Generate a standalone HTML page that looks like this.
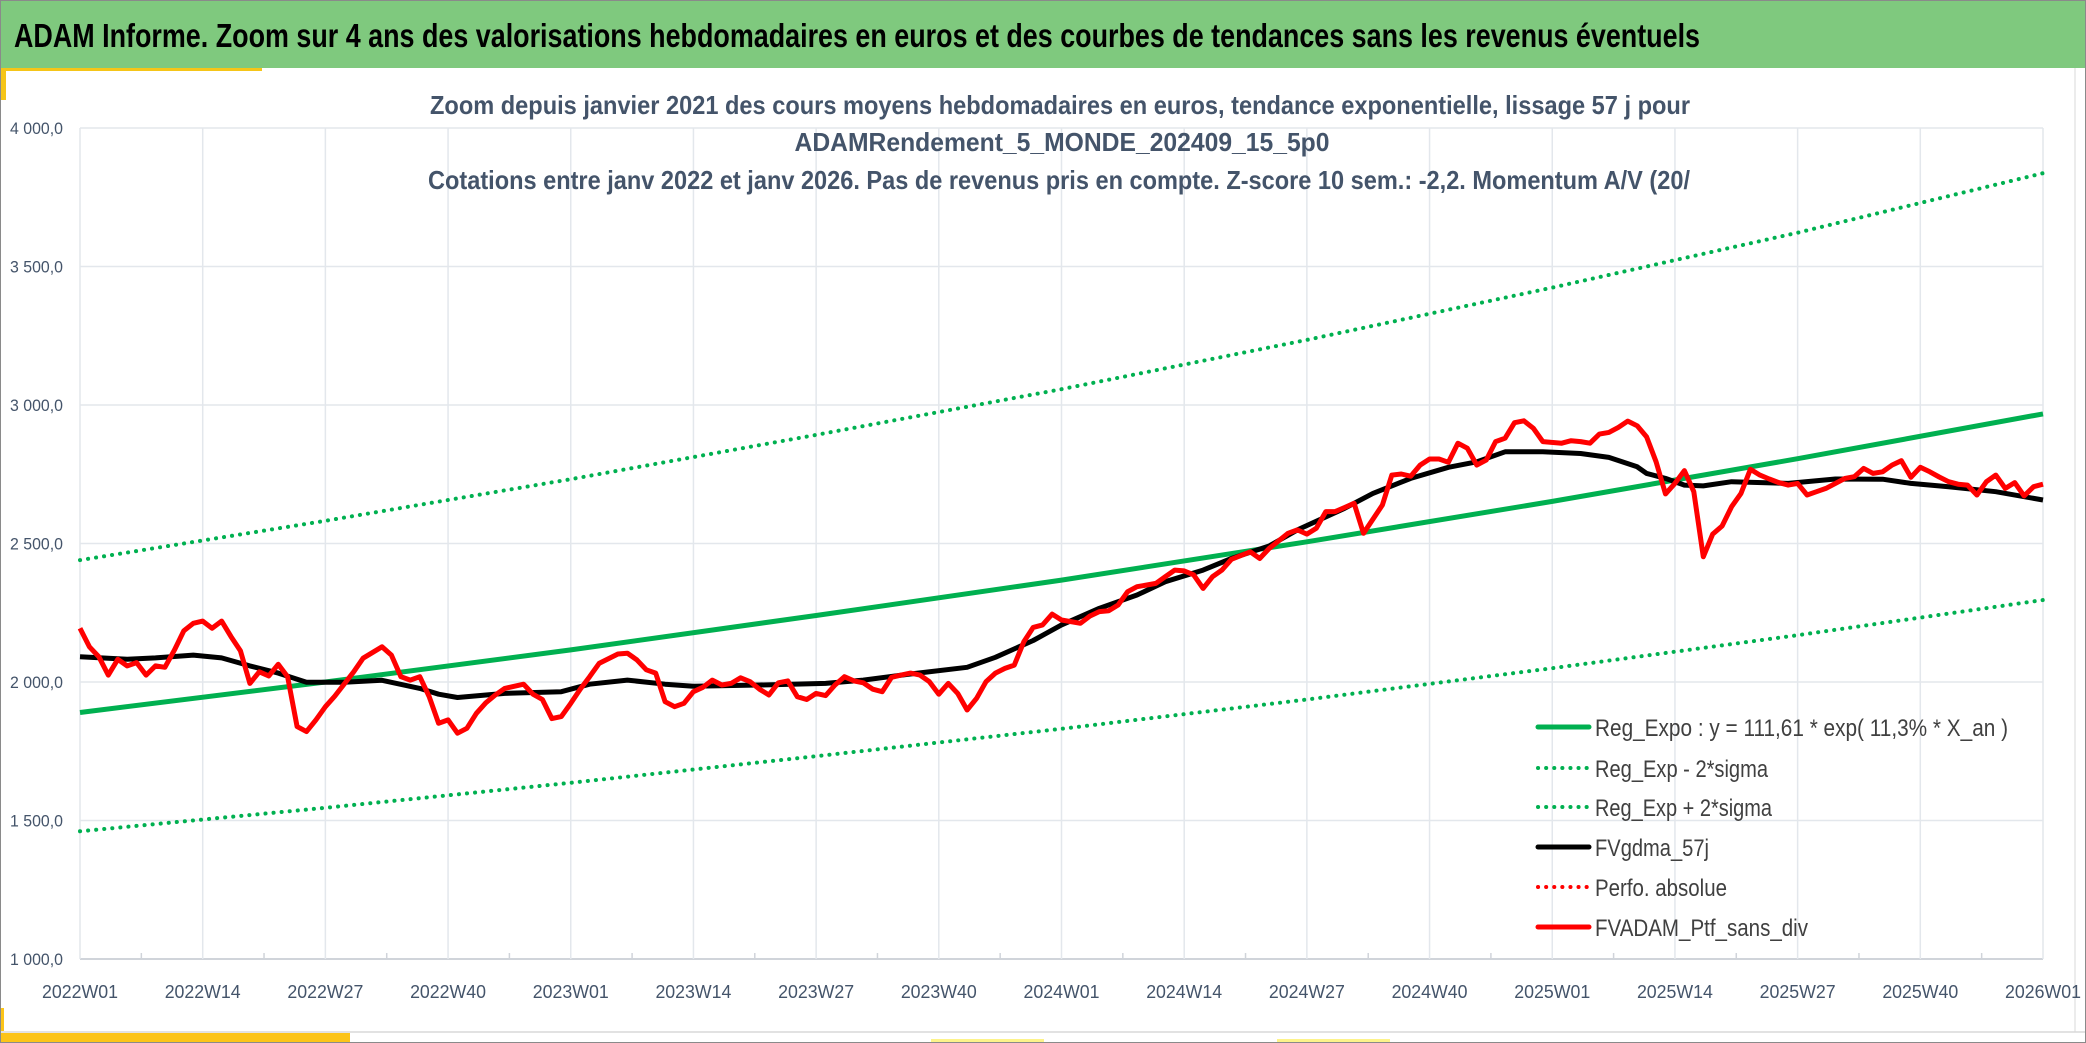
<!DOCTYPE html>
<html><head><meta charset="utf-8"><style>
html,body{margin:0;padding:0;background:#fff;}
body{width:2086px;height:1043px;overflow:hidden;position:relative;font-family:"Liberation Sans",sans-serif;}
svg{display:block;}
</style></head><body>
<svg id="chart" width="2086" height="1043" viewBox="0 0 2086 1043" xmlns="http://www.w3.org/2000/svg">
<rect x="0" y="0" width="2086" height="1043" fill="#fff"/>
<g id="grid"></g>
<rect x="0" y="0" width="2086" height="68" fill="#7fc97e"/>
<text x="14" y="47" font-family="Liberation Sans, sans-serif" font-weight="bold" font-size="33" fill="#000" textLength="1686" lengthAdjust="spacingAndGlyphs">ADAM Informe. Zoom sur 4 ans des valorisations hebdomadaires en euros et des courbes de tendances sans les revenus éventuels</text>
<rect x="0" y="68" width="262" height="3" fill="#f5c518"/>
<rect x="0" y="68" width="6" height="32" fill="#f5c518"/>
<rect x="0" y="1033" width="350" height="10" fill="#fcc419"/>
<rect x="0" y="1008" width="4" height="35" fill="#fcc419"/>
<rect x="931" y="1039" width="113" height="4" fill="#fdf38a"/>
<rect x="1277" y="1039" width="113" height="4" fill="#fdf38a"/>
<line x1="0" y1="1032" x2="2086" y2="1032" stroke="#e2e2e2" stroke-width="2"/>
<line x1="2075" y1="68" x2="2075" y2="1032" stroke="#d8d8d8" stroke-width="1"/>
<rect x="0.5" y="0.5" width="2085" height="1042" fill="none" stroke="#8a8a8a" stroke-width="1"/>
<g font-family="Liberation Sans, sans-serif" font-weight="bold" font-size="26" fill="#44546a" text-anchor="middle">
<text x="1060" y="114" textLength="1260" lengthAdjust="spacingAndGlyphs">Zoom depuis janvier 2021 des cours moyens hebdomadaires en euros, tendance exponentielle, lissage 57 j pour</text>
<text x="1062" y="151" textLength="535" lengthAdjust="spacingAndGlyphs">ADAMRendement_5_MONDE_202409_15_5p0</text>
<text x="1059" y="189" textLength="1262" lengthAdjust="spacingAndGlyphs">Cotations entre janv 2022 et janv 2026. Pas de revenus pris en compte. Z-score 10 sem.: -2,2. Momentum A/V (20/</text>
</g>
<g id="axes"></g>
<g id="series"></g>
<g id="legend"></g>
</svg>
<script>
// ---- data ----
const xLabels = ["2022W01","2022W14","2022W27","2022W40","2023W01","2023W14","2023W27","2023W40","2024W01","2024W14","2024W27","2024W40","2025W01","2025W14","2025W27","2025W40","2026W01"];
const yTicks = [1000,1500,2000,2500,3000,3500,4000];
const yTickLabels = ["1 000,0","1 500,0","2 000,0","2 500,0","3 000,0","3 500,0","4 000,0"];
const redWeeks = [0,1,2,3,4,5,6,7,8,9,10,11,12,13,14,15,16,17,18,19,20,21,22,23,24,25,26,27,29,30,32,33,34,35,36,37,38,39,40,41,42,43,44,45,47,48,49,50,51,52,53,54,55,57,58,59,60,61,62,63,64,65,66,67,68,69,70,71,72,73,74,75,76,77,78,79,80,81,82,83,84,85,86,87,88,89,90,91,92,93,94,95,96,97,98,99,100,101,102,103,104,106,107,108,109,110,111,112,114,115,116,117,118,119,120,121,122,124,125,126,128,129,130,131,132,133,134,135,136,138,139,140,141,142,143,144,145,146,147,148,149,150,151,152,153,154,155,157,158,159,160,161,162,163,164,165,166,167,168,169,170,171,172,173,174,175,176,177,178,179,180,181,182,183,184,185,186,187,188,189,190,191,192,193,194,195,196,197,198,199,200,201,202,203,204,205,206,207,208];
const redValues = [2194,2127,2091,2025,2082,2058,2070,2025,2058,2053,2115,2185,2212,2220,2194,2220,2164,2113,1995,2037,2022,2064,2019,1839,1821,1863,1911,1949,2037,2086,2127,2097,2019,2007,2019,1947,1851,1863,1815,1833,1887,1925,1953,1977,1992,1956,1937,1868,1875,1923,1974,2019,2067,2101,2104,2080,2044,2032,1929,1911,1923,1965,1981,2007,1989,1995,2015,2001,1974,1953,1997,2004,1947,1937,1959,1951,1989,2019,2004,1997,1974,1965,2017,2025,2032,2025,2001,1956,1995,1959,1899,1941,2001,2032,2049,2061,2145,2197,2206,2245,2224,2212,2238,2254,2257,2278,2326,2344,2356,2380,2404,2401,2387,2338,2380,2404,2443,2470,2446,2482,2537,2549,2534,2555,2615,2615,2630,2645,2537,2639,2747,2751,2743,2783,2805,2805,2793,2862,2844,2783,2801,2868,2880,2936,2943,2916,2868,2862,2871,2868,2862,2895,2901,2919,2942,2925,2885,2795,2679,2717,2763,2687,2452,2534,2563,2633,2681,2768,2747,2733,2720,2711,2717,2675,2687,2699,2717,2735,2741,2771,2753,2759,2783,2799,2739,2775,2759,2740,2723,2714,2711,2675,2723,2747,2699,2720,2672,2705,2714,2700,2687,2681,2675,2609];
const blackWeeks = [0,5,8,12,15,18,21,24,28,32,36,38,40,45,51,54,58,62,65,72,79,83,88,94,97,101,104,108,112,115,119,122,126,129,134,137,141,145,148,151,155,159,162,165,166,168,170,172,175,181,186,191,194,198,203,208];
const blackValues = [2091,2082,2087,2097,2087,2058,2032,1999,1999,2006,1977,1956,1944,1959,1965,1992,2007,1992,1985,1989,1995,2007,2029,2053,2089,2150,2206,2266,2314,2362,2404,2446,2491,2549,2627,2681,2735,2775,2795,2831,2831,2825,2811,2777,2753,2735,2711,2708,2723,2717,2733,2732,2717,2705,2687,2657];
const regWeeks = [0,26,52,78,104,130,156,182,208];
const regValues = [1890,2000,2116,2240,2368,2506,2652,2806,2968];
const upperValues = [2440,2582,2732,2892,3057,3235,3424,3622,3837];
const lowerValues = [1461,1546,1636,1732,1831,1937,2050,2169,2296];

// ---- axes ----
const NS = "http://www.w3.org/2000/svg";
const X0 = 80, X1 = 2043, Y0 = 959, Y1 = 128, WMAX = 208, VMIN = 1000, VMAX = 4000;
function xs(w){ return X0 + (w / WMAX) * (X1 - X0); }
function ys(v){ return Y0 - (v - VMIN) / (VMAX - VMIN) * (Y0 - Y1); }
function mk(tag, attrs, parent){ const e = document.createElementNS(NS, tag); for (const k in attrs) e.setAttribute(k, attrs[k]); parent.appendChild(e); return e; }

const grid = document.getElementById('grid');
const axes = document.getElementById('axes');
const series = document.getElementById('series');
const legend = document.getElementById('legend');

yTicks.forEach((v, i) => {
  const ln = mk('line', {x1: X0, x2: X1, y1: ys(v), y2: ys(v), stroke: i === 0 ? '#d0d4da' : '#e3e7ec', 'stroke-width': i === 0 ? 2 : 1.5}, grid);
  
  
  const t = mk('text', {x: 10, y: ys(v) + 6, 'font-size': 17, fill: '#44546a', textLength: 53, lengthAdjust: 'spacingAndGlyphs'}, axes);
  t.textContent = yTickLabels[i];
  
  
});
xLabels.forEach((lab, i) => {
  const w = i * 13;
  const ln = mk('line', {x1: xs(w), x2: xs(w), y1: Y1, y2: Y0, stroke: '#e3e7ec', 'stroke-width': 1.5}, grid);
  
  
  if (i < xLabels.length - 1) {
    const tk = mk('line', {x1: xs(w + 6.5), x2: xs(w + 6.5), y1: Y0 - 6, y2: Y0, stroke: '#d0d4da', 'stroke-width': 1.5}, grid);
    
    
  }
  const t = mk('text', {x: Math.min(xs(w), 2047), y: 998, 'font-size': 18, fill: '#44546a', 'text-anchor': 'middle', textLength: 76, lengthAdjust: 'spacingAndGlyphs'}, axes);
  t.textContent = lab;
  
  
});

function pts(ws, vs){ return ws.map((w, i) => xs(w).toFixed(1) + ',' + ys(vs[i]).toFixed(1)).join(' '); }

const up = mk('polyline', {points: pts(regWeeks, upperValues), fill: 'none', stroke: '#00b050', 'stroke-width': 4, 'stroke-dasharray': '0.1 8', 'stroke-linecap': 'round'}, series);


const lo = mk('polyline', {points: pts(regWeeks, lowerValues), fill: 'none', stroke: '#00b050', 'stroke-width': 4, 'stroke-dasharray': '0.1 8', 'stroke-linecap': 'round'}, series);


const rg = mk('polyline', {points: pts(regWeeks, regValues), fill: 'none', stroke: '#00b050', 'stroke-width': 5}, series);


const bk = mk('polyline', {points: pts(blackWeeks, blackValues), fill: 'none', stroke: '#000', 'stroke-width': 5, 'stroke-linejoin': 'round'}, series);


const rd = mk('polyline', {points: pts(redWeeks, redValues), fill: 'none', stroke: '#ff0000', 'stroke-width': 5, 'stroke-linejoin': 'round'}, series);



// ---- legend ----
const legItems = [
  ['Reg_Expo : y = 111,61 * exp( 11,3% *  X_an )', '#00b050', false, 413, 'legend-reg-expo'],
  ['Reg_Exp - 2*sigma', '#00b050', true, 173, 'legend-reg-exp-minus'],
  ['Reg_Exp + 2*sigma', '#00b050', true, 177, 'legend-reg-exp-plus'],
  ['FVgdma_57j', '#000', false, 114, 'legend-fvgdma'],
  ['Perfo. absolue', '#ff0000', true, 132, 'legend-perfo-absolue'],
  ['FVADAM_Ptf_sans_div', '#ff0000', false, 213, 'legend-fvadam']
];
const legY = [727, 768, 807, 847, 887, 927];
legItems.forEach((it, i) => {
  const g = mk('g', {}, legend);
  
  
  const a = {x1: 1538, x2: 1589, y1: legY[i], y2: legY[i], stroke: it[1], 'stroke-width': it[2] ? 4 : 5, 'stroke-linecap': 'round'};
  if (it[2]) a['stroke-dasharray'] = '0.1 8';
  const l = mk('line', a, g);
  
  
  const t = mk('text', {x: 1595, y: legY[i] + 9, 'font-size': 24, fill: '#404040', textLength: it[3], lengthAdjust: 'spacingAndGlyphs'}, g);
  t.textContent = it[0];
  
  
});
</script>
</body></html>
